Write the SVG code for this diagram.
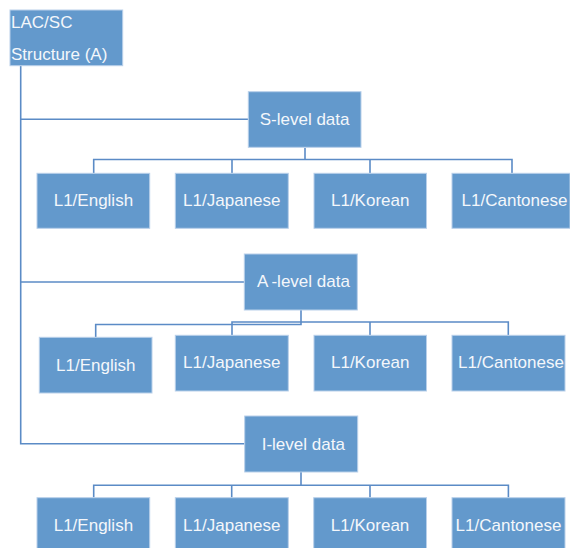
<svg xmlns="http://www.w3.org/2000/svg" width="570" height="548" viewBox="0 0 570 548">
<style>
.box{fill:#6399cc;stroke:#b9d0ea;stroke-width:1}
.t{font-family:"Liberation Sans",Arial,sans-serif;font-size:17px;fill:#f4f7fb;text-anchor:middle}
.tl{font-family:"Liberation Sans",Arial,sans-serif;font-size:17px;fill:#f4f7fb}
.c{fill:none;stroke:#5b8bc6;stroke-width:1.6}
</style>
<rect width="570" height="548" fill="#ffffff"/>
<g id="connectors">
<path class="c" d="M20.7 66 V443.7 H244.5"/>
<path class="c" d="M20.7 119.3 H248"/>
<path class="c" d="M20.7 282 H244"/>
<path class="c" d="M305 148 V159.5 M93.7 173 V159.5 H512 V173 M232 159.5 V173 M370 159.5 V173"/>
<path class="c" d="M301 310 V324.5 H95.7 V337 M232 335 V322 H508.3 V335 M370 322 V335"/>
<path class="c" d="M301 472 V485.3 M93.7 497.5 V485.3 H508.4 V497.5 M231.7 485.3 V497.5 M370 485.3 V497.5"/>
</g>
<g id="root">
<rect class="box" x="10" y="10" width="112.7" height="55.7"/>
<text class="tl" x="11" y="28">LAC/SC</text>
<text class="tl" x="11" y="60">Structure (A)</text>
</g>
<g id="s-level">
<rect class="box" x="248.3" y="91.7" width="112.7" height="55.6"/>
<text class="t" x="304.6" y="125">S-level data</text>
</g>
<g id="s-english"><rect class="box" x="37" y="173.3" width="112.7" height="55"/><text class="t" x="93.4" y="206">L1/English</text></g>
<g id="s-japanese"><rect class="box" x="175.3" y="173.3" width="113" height="55"/><text class="t" x="231.8" y="206">L1/Japanese</text></g>
<g id="s-korean"><rect class="box" x="314" y="173.3" width="112.5" height="55"/><text class="t" x="370.2" y="206">L1/Korean</text></g>
<g id="s-cantonese"><rect class="box" x="452" y="173.3" width="118" height="55"/><text class="t" x="514.5" y="206">L1/Cantonese</text></g>
<g id="a-level">
<rect class="box" x="244.3" y="254" width="113" height="56"/>
<text class="t" x="303.5" y="286.7">A<tspan dx="3">-level data</tspan></text>
</g>
<g id="a-english"><rect class="box" x="39.3" y="337.3" width="112.7" height="55.7"/><text class="t" x="95.7" y="371">L1/English</text></g>
<g id="a-japanese"><rect class="box" x="175.3" y="335.3" width="113" height="55.7"/><text class="t" x="231.8" y="368.3">L1/Japanese</text></g>
<g id="a-korean"><rect class="box" x="314" y="335.3" width="112.5" height="55.7"/><text class="t" x="370.2" y="368.3">L1/Korean</text></g>
<g id="a-cantonese"><rect class="box" x="452" y="335.3" width="113" height="55.7"/><text class="t" x="511" y="368.3">L1/Cantonese</text></g>
<g id="i-level">
<rect class="box" x="244.7" y="416" width="113" height="56"/>
<text class="t" x="303.3" y="450">I-level data</text>
</g>
<g id="i-english"><rect class="box" x="37" y="497.7" width="112.7" height="55"/><text class="t" x="93.4" y="530.7">L1/English</text></g>
<g id="i-japanese"><rect class="box" x="175.3" y="497.7" width="113" height="55"/><text class="t" x="231.8" y="530.7">L1/Japanese</text></g>
<g id="i-korean"><rect class="box" x="313.7" y="497.7" width="112.8" height="55"/><text class="t" x="370.1" y="530.7">L1/Korean</text></g>
<g id="i-cantonese"><rect class="box" x="452" y="497.7" width="113" height="55"/><text class="t" x="508.5" y="530.7">L1/Cantonese</text></g>
</svg>
